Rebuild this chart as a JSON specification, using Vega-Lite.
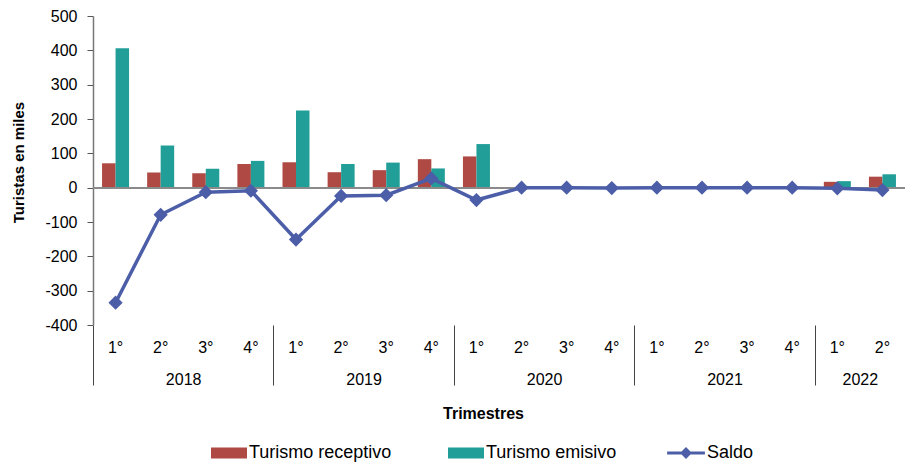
{
  "$schema": "https://vega.github.io/schema/vega-lite/v6.json",
  "width": 812,
  "height": 309,
  "autosize": "none",
  "padding": {"left": 93, "top": 16, "right": 0, "bottom": 140},
  "background": "white",
  "config": {
    "font": "Liberation Sans",
    "view": {"stroke": null},
    "legend": {"padding": 0, "titlePadding": 0}
  },
  "data": {
    "values": [
      {"key": "2018-1", "receptivo": 71, "emisivo": 406, "saldo": -335},
      {"key": "2018-2", "receptivo": 44, "emisivo": 123, "saldo": -79},
      {"key": "2018-3", "receptivo": 42, "emisivo": 55, "saldo": -13},
      {"key": "2018-4", "receptivo": 69, "emisivo": 78, "saldo": -9},
      {"key": "2019-1", "receptivo": 74, "emisivo": 225, "saldo": -151},
      {"key": "2019-2", "receptivo": 45, "emisivo": 69, "saldo": -24},
      {"key": "2019-3", "receptivo": 51, "emisivo": 73, "saldo": -22},
      {"key": "2019-4", "receptivo": 83, "emisivo": 56, "saldo": 27},
      {"key": "2020-1", "receptivo": 91, "emisivo": 127, "saldo": -36},
      {"key": "2020-2", "receptivo": 0.5, "emisivo": 0.5, "saldo": 0},
      {"key": "2020-3", "receptivo": 0.5, "emisivo": 0.5, "saldo": 0},
      {"key": "2020-4", "receptivo": 0.5, "emisivo": 1.5, "saldo": -1},
      {"key": "2021-1", "receptivo": 0.5, "emisivo": 0.5, "saldo": 0},
      {"key": "2021-2", "receptivo": 0.5, "emisivo": 0.5, "saldo": 0},
      {"key": "2021-3", "receptivo": 0.5, "emisivo": 0.5, "saldo": 0},
      {"key": "2021-4", "receptivo": 0.5, "emisivo": 0.5, "saldo": 0},
      {"key": "2022-1", "receptivo": 17, "emisivo": 19, "saldo": -2},
      {"key": "2022-2", "receptivo": 32, "emisivo": 39, "saldo": -7}
    ]
  },
  "resolve": {"axis": {"x": "independent"}},
  "layer": [
    {
      "transform": [
        {"fold": ["receptivo", "emisivo"], "as": ["serie", "value"]},
        {"calculate": "datum.serie === 'receptivo' ? 'Turismo receptivo' : 'Turismo emisivo'", "as": "series"}
      ],
      "mark": {"type": "bar"},
      "encoding": {
        "x": {
          "field": "key",
          "type": "ordinal",
          "scale": {"paddingInner": 0, "paddingOuter": 0},
          "axis": {
            "orient": "bottom",
            "title": null,
            "domain": false,
            "ticks": false,
            "labelAngle": 0,
            "labelPadding": 14,
            "labelFontSize": 16,
            "labelColor": "#000",
            "labelOverlap": false,
            "labelExpr": "split(datum.value,'-')[1] + '°'"
          }
        },
        "xOffset": {
          "field": "series",
          "type": "nominal",
          "scale": {"domain": ["Turismo receptivo", "Turismo emisivo"], "paddingInner": 0, "paddingOuter": 0.67}
        },
        "y": {
          "field": "value",
          "type": "quantitative",
          "scale": {"domain": [-400, 500], "nice": false},
          "axis": {
            "values": [-400, -300, -200, -100, 0, 100, 200, 300, 400, 500],
            "tickCount": 10,
            "labelExpr": "'' + datum.value",
            "labelOverlap": false,
            "labelFlush": false,
            "grid": false,
            "title": "Turistas en miles",
            "titleFontSize": 15,
            "titleFontWeight": "bold",
            "titleColor": "#000",
            "titlePadding": 18,
            "titleY": 146,
            "labelFontSize": 16,
            "labelColor": "#000",
            "labelPadding": 10,
            "tickSize": 6,
            "tickColor": "#555",
            "domainColor": "#777",
            "domainWidth": 1.5
          }
        },
        "color": {
          "field": "series",
          "type": "nominal",
          "scale": {
            "domain": ["Turismo receptivo", "Turismo emisivo"],
            "range": ["#AE4A43", "#229E98"]
          },
          "legend": {
            "title": null,
            "orient": "none",
            "direction": "horizontal",
            "legendX": 118,
            "legendY": 419,
            "labelFontSize": 18,
            "labelColor": "#000",
            "symbolSize": 1296,
            "labelOffset": 2,
            "columnPadding": 56,
            "symbolStrokeWidth": 0,
            "encode": {
              "symbols": {
                "update": {
                  "shape": {"value": "M-1,-0.3H1V0.3H-1Z"},
                  "strokeWidth": {"value": 0},
                  "opacity": {"value": 1}
                }
              }
            }
          }
        }
      }
    },
    {
      "mark": {"type": "rule", "color": "#8A8A8A", "strokeWidth": 1.5},
      "encoding": {"y": {"datum": 0}}
    },
    {
      "mark": {
        "type": "line",
        "strokeWidth": 3.5,
        "point": {"shape": "diamond", "size": 130, "filled": true, "color": "#4C5EA8"}
      },
      "encoding": {
        "x": {
          "field": "key",
          "type": "ordinal",
          "axis": {
            "orient": "bottom",
            "domain": false,
            "ticks": true,
            "tickBand": "extent",
            "tickSize": 60,
            "tickWidth": 1,
            "tickColor": {"condition": {"test": "datum.extra || indexof('' + datum.value, '-4') > 0", "value": "#444"}, "value": "transparent"},
            "labelAngle": 0,
            "labelOffset": 22.5,
            "labelPadding": -14,
            "labelFontSize": 16,
            "labelColor": "#000",
            "labelOverlap": false,
            "labelBound": false,
            "labelExpr": "(split(datum.value,'-')[1] == '2' && split(datum.value,'-')[0] != '2022') || datum.value == '2022-1' ? split(datum.value,'-')[0] : ''",
            "title": "Trimestres",
            "titleFontSize": 16,
            "titleFontWeight": "bold",
            "titleColor": "#000",
            "titlePadding": 18,
            "titleX": 390
          }
        },
        "y": {
          "field": "saldo",
          "type": "quantitative",
          "axis": {
            "values": [-400, -300, -200, -100, 0, 100, 200, 300, 400, 500],
            "tickCount": 10,
            "labelExpr": "'' + datum.value",
            "labelOverlap": false,
            "labelFlush": false,
            "grid": false,
            "title": "Turistas en miles",
            "titleFontSize": 15,
            "titleFontWeight": "bold",
            "titleColor": "#000",
            "titlePadding": 18,
            "titleY": 146,
            "labelFontSize": 16,
            "labelColor": "#000",
            "labelPadding": 10,
            "tickSize": 6,
            "tickColor": "#555",
            "domainColor": "#777",
            "domainWidth": 1.5
          }
        },
        "stroke": {
          "datum": "Saldo",
          "scale": {"domain": ["Saldo"], "range": ["#4C5EA8"]},
          "legend": {
            "title": null,
            "orient": "none",
            "direction": "horizontal",
            "legendX": 575,
            "legendY": 419,
            "labelFontSize": 18,
            "labelColor": "#000",
            "symbolSize": 1296,
            "labelOffset": 3,
            "encode": {
              "symbols": {
                "update": {
                  "shape": {"value": "M-1.05,-0.09H1.05V0.09H-1.05Z M0,-0.33L0.33,0L0,0.33L-0.33,0Z"},
                  "fill": {"value": "#4C5EA8"},
                  "strokeWidth": {"value": 0},
                  "opacity": {"value": 1}
                }
              }
            }
          }
        }
      }
    }
  ]
}
